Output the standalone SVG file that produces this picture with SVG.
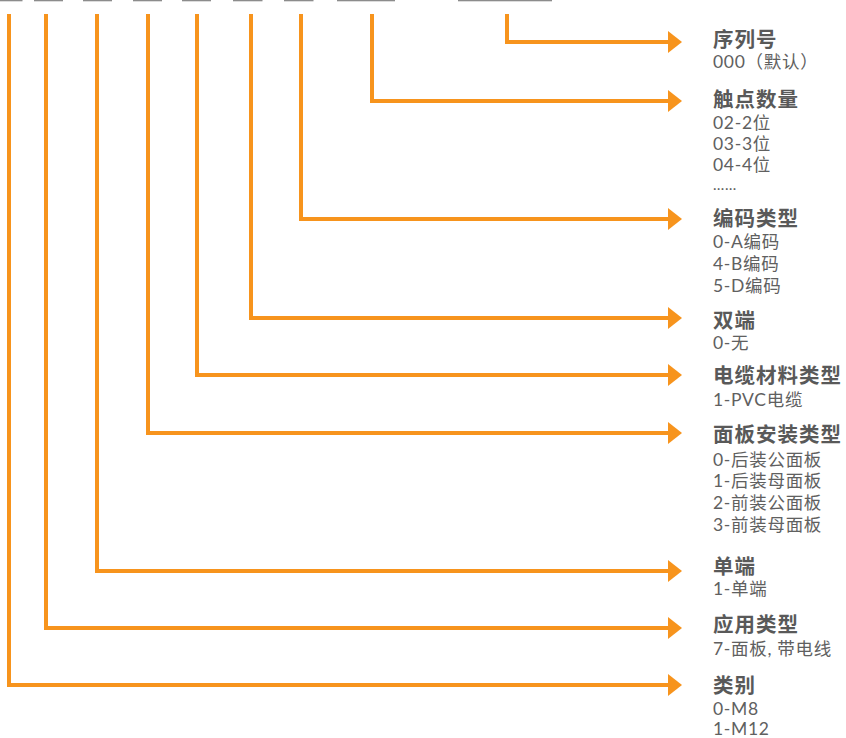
<svg xmlns="http://www.w3.org/2000/svg" width="846" height="738" viewBox="0 0 846 738">
<defs>
<style>
.bar{fill:#8c8c8c}
.ln{fill:none;stroke:#F7941D;stroke-width:4;stroke-linejoin:miter}
.ah{fill:#F7941D}
.t{font-family:"Lato","Noto Sans CJK SC",sans-serif;font-size:20.5px;font-weight:bold;fill:#595959;letter-spacing:1px}
.s{font-family:"Lato","Noto Sans CJK SC",sans-serif;font-size:17.5px;fill:#606060;letter-spacing:0.7px}
</style>
</defs>
<rect width="846" height="738" fill="#ffffff"/>
<g id="code-slots">
<rect class="bar" x="0" y="0" width="22.5" height="1.3"/>
<rect class="bar" x="34" y="0" width="29" height="1.3"/>
<rect class="bar" x="83" y="0" width="29" height="1.3"/>
<rect class="bar" x="133" y="0" width="29" height="1.3"/>
<rect class="bar" x="182" y="0" width="29" height="1.3"/>
<rect class="bar" x="233" y="0" width="29.5" height="1.3"/>
<rect class="bar" x="284" y="0" width="29.5" height="1.3"/>
<rect class="bar" x="337" y="0" width="58" height="1.3"/>
<rect class="bar" x="458" y="0" width="94" height="1.3"/>
</g>
<g id="connectors">
<path class="ln" d="M507 14 V42 H669"/>
<polygon class="ah" points="668,31 682,42 668,53"/>
<path class="ln" d="M372 14 V101 H669"/>
<polygon class="ah" points="668,90 682,101 668,112"/>
<path class="ln" d="M301 14 V219 H669"/>
<polygon class="ah" points="668,208 682,219 668,230"/>
<path class="ln" d="M251 14 V318 H669"/>
<polygon class="ah" points="668,307 682,318 668,329"/>
<path class="ln" d="M197 14 V375 H669"/>
<polygon class="ah" points="668,364 682,375 668,386"/>
<path class="ln" d="M148 14 V433 H669"/>
<polygon class="ah" points="668,422 682,433 668,444"/>
<path class="ln" d="M97 14 V571 H669"/>
<polygon class="ah" points="668,560 682,571 668,582"/>
<path class="ln" d="M46 14 V628 H669"/>
<polygon class="ah" points="668,617 682,628 668,639"/>
<path class="ln" d="M9 14 V685 H669"/>
<polygon class="ah" points="668,674 682,685 668,696"/>
</g>
<g id="node-serial">
<text class="t" x="713" y="47">序列号</text>
<text class="s" x="713" y="68">000（默认）</text>
</g>
<g id="node-contacts">
<text class="t" x="713" y="107">触点数量</text>
<text class="s" x="713" y="129">02-2位</text>
<text class="s" x="713" y="150">03-3位</text>
<text class="s" x="713" y="171">04-4位</text>
<text class="s" x="713" y="190" style="font-size:15px">……</text>
</g>
<g id="node-coding">
<text class="t" x="713" y="226">编码类型</text>
<text class="s" x="713" y="248">0-A编码</text>
<text class="s" x="713" y="270">4-B编码</text>
<text class="s" x="713" y="292">5-D编码</text>
</g>
<g id="node-double">
<text class="t" x="713" y="328">双端</text>
<text class="s" x="713" y="349">0-无</text>
</g>
<g id="node-cable">
<text class="t" x="713" y="383">电缆材料类型</text>
<text class="s" x="713" y="406">1-PVC电缆</text>
</g>
<g id="node-panel">
<text class="t" x="713" y="442">面板安装类型</text>
<text class="s" x="713" y="466">0-后装公面板</text>
<text class="s" x="713" y="487">1-后装母面板</text>
<text class="s" x="713" y="509">2-前装公面板</text>
<text class="s" x="713" y="531">3-前装母面板</text>
</g>
<g id="node-single">
<text class="t" x="713" y="574">单端</text>
<text class="s" x="713" y="595">1-单端</text>
</g>
<g id="node-application">
<text class="t" x="713" y="632">应用类型</text>
<text class="s" x="713" y="655">7-面板, 带电线</text>
</g>
<g id="node-category">
<text class="t" x="713" y="693">类别</text>
<text class="s" x="713" y="715">0-M8</text>
<text class="s" x="713" y="735">1-M12</text>
</g>
</svg>
